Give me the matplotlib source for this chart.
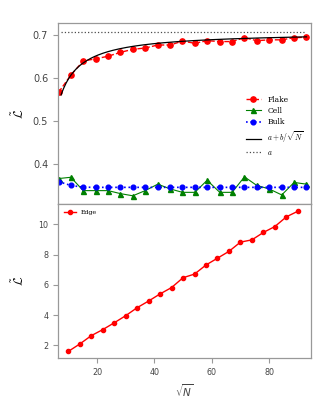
import numpy as np
import matplotlib
matplotlib.use("Agg")
import matplotlib.pyplot as plt

plt.rcParams['mathtext.fontset'] = 'cm'
plt.rcParams['axes.edgecolor'] = '#999999'
plt.rcParams['xtick.color'] = '#999999'
plt.rcParams['ytick.color'] = '#999999'
plt.rcParams['xtick.labelcolor'] = '#444444'
plt.rcParams['ytick.labelcolor'] = '#444444'

# Top panel: sqrt(N) values and normalised quantity for the three systems
x_top = [6.6, 10.9, 15.2, 19.6, 23.9, 28.2, 32.5, 36.8, 41.2, 45.5, 49.8,
         54.1, 58.4, 62.8, 67.1, 71.4, 75.7, 80.0, 84.4, 88.7, 93.0]
flake = [0.567, 0.607, 0.640, 0.645, 0.651, 0.660, 0.667, 0.670, 0.677, 0.677, 0.686,
         0.681, 0.687, 0.685, 0.685, 0.694, 0.687, 0.689, 0.689, 0.694, 0.695]
cell = [0.367, 0.370, 0.339, 0.339, 0.339, 0.332, 0.327, 0.339, 0.354, 0.343, 0.335,
        0.335, 0.363, 0.335, 0.335, 0.371, 0.351, 0.343, 0.329, 0.358, 0.354]
bulk = [0.360, 0.351, 0.347, 0.3466, 0.3466, 0.3466, 0.3466, 0.3466, 0.3466, 0.3466, 0.3466,
        0.3466, 0.3466, 0.3466, 0.3466, 0.3466, 0.3466, 0.3466, 0.3466, 0.3466, 0.3466]

# Fit a + b/sqrt(N) (x axis is sqrt(N))
fit_a = 0.7077
fit_b = -1.1
fit_range = (7.5, 93.0)

# Bottom panel: edge
x_edge = [10, 14, 18, 22, 26, 30, 34, 38, 42, 46, 50, 54, 58, 62, 66, 70, 74, 78, 82, 86, 90]
edge = [1.60, 2.09, 2.64, 3.04, 3.49, 3.96, 4.49, 4.93, 5.40, 5.82, 6.47,
        6.71, 7.31, 7.76, 8.21, 8.82, 8.97, 9.46, 9.85, 10.49, 10.86]

fig = plt.figure(figsize=(3.33, 4.04), dpi=100)
gs = fig.add_gridspec(2, 1, height_ratios=[181, 154], hspace=0,
                      left=0.174, right=0.934, top=0.943, bottom=0.114)
ax1 = fig.add_subplot(gs[0])
ax2 = fig.add_subplot(gs[1], sharex=ax1)

ax1.plot(x_top, flake, color='red', marker='o', markersize=3.8, linestyle='--', lw=1, label='Flake')
ax1.plot(x_top, cell, color='green', marker='^', markersize=3.6, linestyle='-', lw=0.8, label='Cell')
ax1.plot(x_top, bulk, color='blue', marker='o', markersize=3.4, linestyle=':', lw=1.2, label='Bulk')
xf = np.linspace(fit_range[0], fit_range[1], 200)
ax1.plot(xf, fit_a + fit_b / xf, color='black', lw=0.9, label=r'$a + b/\sqrt{N}$')
ax1.plot(fit_range, [fit_a, fit_a], color='black', linestyle=':', lw=0.9, alpha=0.7, label=r'$a$')

ax1.set_ylim(0.308, 0.728)
ax1.set_yticks([0.4, 0.5, 0.6, 0.7])
ax1.set_ylabel(r'$\tilde{\mathcal{L}}$', fontsize=9)
ax1.tick_params(axis='y', labelsize=7, length=3.5, width=0.8)
ax1.tick_params(axis='x', bottom=False, labelbottom=False)
ax1.legend(loc='center right', bbox_to_anchor=(1.0, 0.43), frameon=False,
           prop={'family': 'serif', 'size': 5.5}, handlelength=2, labelspacing=0.45)

ax2.plot(x_edge, edge, color='red', marker='o', markersize=3, lw=1, label='Edge')
ax2.set_xlim(6.4, 94.6)
ax2.set_ylim(1.17, 11.34)
ax2.set_yticks([2, 4, 6, 8, 10])
ax2.set_xticks([20, 40, 60, 80])
ax2.set_ylabel(r'$\tilde{\mathcal{L}}$', fontsize=9)
ax2.set_xlabel(r'$\sqrt{N}$', fontsize=7.5, color='#444444', math_fontfamily='dejavusans')
ax2.tick_params(labelsize=5.8, length=3.5, width=0.8)
ax2.legend(loc='upper left', frameon=False, prop={'family': 'serif', 'size': 4.5})

for ax in (ax1, ax2):
    for sp in ax.spines.values():
        sp.set_linewidth(0.9)

fig.align_ylabels([ax1, ax2])
fig.savefig('out.png', dpi=100)
